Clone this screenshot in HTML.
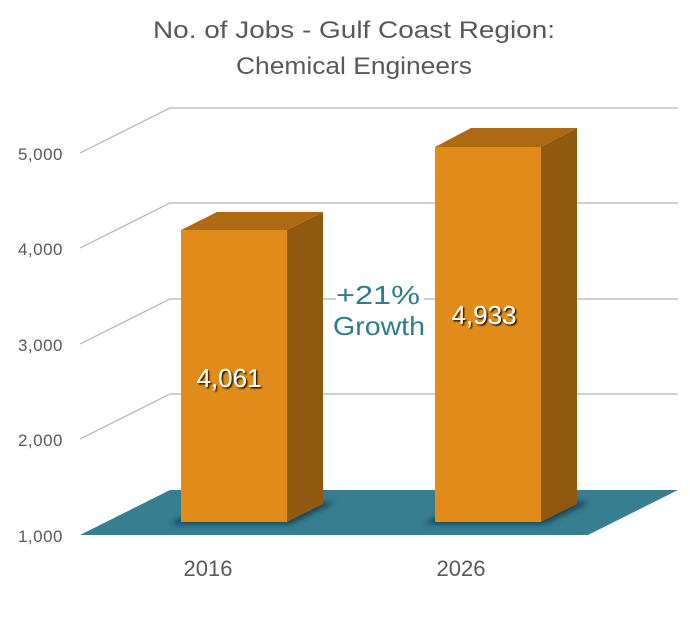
<!DOCTYPE html>
<html><head><meta charset="utf-8"><style>
html,body{margin:0;padding:0;background:#fff;}
svg{display:block;font-family:"Liberation Sans",sans-serif;}
</style></head><body>
<svg width="690" height="629" viewBox="0 0 690 629" xmlns="http://www.w3.org/2000/svg">
<defs>
<filter id="sh" x="-20%" y="-20%" width="140%" height="140%"><feDropShadow dx="1.5" dy="1.5" stdDeviation="0.8" flood-color="#000" flood-opacity="0.85"/></filter>
<filter id="bs" x="-20%" y="-50%" width="140%" height="200%"><feGaussianBlur stdDeviation="3"/></filter>
</defs>
<text x="354" y="38" text-anchor="middle" font-size="24" fill="#595959" textLength="402" lengthAdjust="spacingAndGlyphs">No. of Jobs - Gulf Coast Region:</text>
<text x="354" y="74" text-anchor="middle" font-size="24" fill="#595959" textLength="236" lengthAdjust="spacingAndGlyphs">Chemical Engineers</text>
<g stroke="#bfbfbf" stroke-width="1.5" fill="none">
<polyline points="80,153 170,108 678,108"/>
<polyline points="80,248 170,203 678,203"/>
<polyline points="80,344 170,299 678,299"/>
<polyline points="80,439 170,394 678,394"/>
</g>
<rect x="336" y="280" width="88" height="60" fill="#fff"/>
<g font-size="17" fill="#595959" text-anchor="end" letter-spacing="0.5">
<text x="63" y="160">5,000</text>
<text x="63" y="255">4,000</text>
<text x="63" y="351">3,000</text>
<text x="63" y="446">2,000</text>
<text x="63" y="542">1,000</text>
</g>
<polygon points="80,535 170,490 678,490 588,535" fill="#367f91"/>
<polygon points="170,524 290,524 335,502 210,502" fill="#123" opacity="0.7" filter="url(#bs)"/>
<polygon points="424,524 544,524 590,502 464,502" fill="#123" opacity="0.7" filter="url(#bs)"/>
<polygon points="181,230 217,212 323,212 287,230" fill="#ae6a12"/>
<polygon points="287,230 323,212 323,504 287,522" fill="#8f5a10"/>
<rect x="181" y="230" width="106" height="292" fill="#e08b1a"/>
<polygon points="435,147 471,128 577,128 541,147" fill="#ae6a12"/>
<polygon points="541,147 577,128 577,504 541,522" fill="#8f5a10"/>
<rect x="435" y="147" width="106" height="375" fill="#e08b1a"/>
<g font-size="26" fill="#fff" text-anchor="middle" filter="url(#sh)">
<text x="229" y="387">4,061</text>
<text x="484" y="324">4,933</text>
</g>
<g font-size="26" fill="#2e7d8c" text-anchor="middle">
<text x="378" y="304" textLength="84" lengthAdjust="spacingAndGlyphs">+21%</text>
<text x="379" y="335" textLength="92" lengthAdjust="spacingAndGlyphs">Growth</text>
</g>
<g font-size="22" fill="#595959" text-anchor="middle">
<text x="208" y="576">2016</text>
<text x="461" y="576">2026</text>
</g>
</svg>
</body></html>
